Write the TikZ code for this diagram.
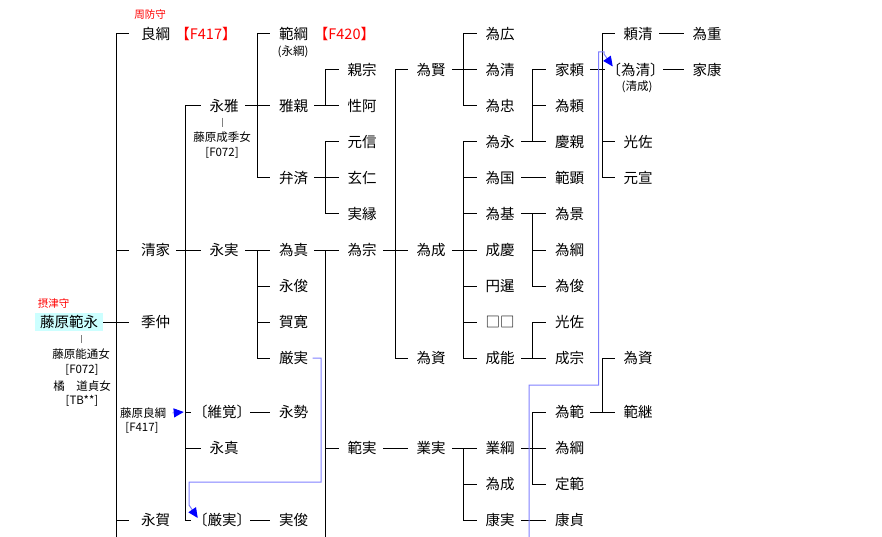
\documentclass[tikz,border=0pt]{standalone}
\usepackage{fontspec}
\setmainfont{Noto Sans CJK JP}
\newfontfamily\jph[RawFeature=+halt]{Noto Sans CJK JP}
\usetikzlibrary{arrows.meta}
\definecolor{lnblue}{RGB}{128,128,255}
\definecolor{tipblue}{RGB}{0,0,255}
\definecolor{boxcyan}{RGB}{204,255,255}
\definecolor{redtxt}{RGB}{255,0,0}
\definecolor{tickgray}{RGB}{128,128,128}
\begin{document}
\begin{tikzpicture}[x=1pt,y=-1pt,line width=1pt,line cap=rect,
  nm/.style={font=\fontsize{14.5}{15}\selectfont, inner xsep=6pt, inner ysep=1pt},
  nmh/.style={nm, font=\jph\fontsize{14.5}{15}\selectfont},
  sm/.style={font=\fontsize{11.5}{12}\selectfont, inner sep=0pt},
  note/.style={font=\fontsize{10.5}{11}\selectfont, text=redtxt, inner sep=0pt},
  redref/.style={font=\jph\fontsize{14.5}{15}\selectfont, text=redtxt, inner sep=0pt},
  tk/.style={shorten >=3pt},
  tkA/.style={shorten >=6pt},
  bl/.style={draw=lnblue, line cap=butt, -{Triangle[color=tipblue,fill=tipblue,length=10pt,width=9pt]}},
  gtick/.style={draw=tickgray, line cap=butt},
]
\useasboundingbox (0,0) rectangle (882,537);

% vertical line positions
\coordinate (V1) at (116.7,0);
\coordinate (V2) at (185.3,0);
\coordinate (V3) at (257.7,0);
\coordinate (V4) at (325,0);
\coordinate (V5) at (395.7,0);
\coordinate (V6) at (463,0);
\coordinate (V7) at (532.3,0);
\coordinate (V8) at (602.3,0);
\coordinate (bot1) at (116.7,537);
\coordinate (bot4) at (325,537);
\coordinate (botb) at (529,537);

% root
\node[nm, fill=boxcyan, inner xsep=5pt, inner ysep=2pt] (hn) at (69,322) {藤原範永};
\node[note] (hnt) at (53.5,304) {摂津守};
\node[sm] (sp1) at (81,354) {藤原能通女};
\node[sm] (sp2) at (82,370) {[F072]};
\node[sm] (sp3) at (82,386) {橘　道貞女};
\node[sm] (sp4) at (82,401) {[TB**]};

% column 1
\node[nm] (a1) at (155.5,34) {良綱};
\node[note] (a1t) at (150,15) {周防守};
\node[redref] (a1r) at (206,34) {【F417】};
\node[nm] (a2) at (155.5,250) {清家};
\node[nm] (a3) at (155.5,322) {季仲};
\node[nm] (a4) at (155.5,520) {永賀};
\node[sm] (yr) at (143,413) {藤原良綱};
\node[sm] (yr2) at (142,428) {[F417]};

% column 2
\node[nm] (b1) at (224,106) {永雅};
\node[sm] (sq1) at (222,137) {藤原成季女};
\node[sm] (sq2) at (222,153) {[F072]};
\node[nm] (b2) at (224,250) {永実};
\node[nmh] (b3) at (222,412) {〔維覚〕};
\node[nm] (b4) at (224,448) {永真};
\node[nmh] (b5) at (222,520) {〔厳実〕};

% column 3
\node[nm] (c1) at (293.5,34) {範綱};
\node[redref] (c1r) at (344.5,34) {【F420】};
\node[sm] (c1s) at (293,52) {(永綱)};
\node[nm] (c2) at (293.5,106) {雅親};
\node[nm] (c3) at (293.5,178) {弁済};
\node[nm] (c4) at (293.5,250) {為真};
\node[nm] (c5) at (293.5,286) {永俊};
\node[nm] (c6) at (293.5,322) {賀寛};
\node[nm] (c7) at (293.5,358) {厳実};
\node[nm] (c8) at (293.5,412) {永勢};
\node[nm] (c9) at (293.5,520) {実俊};

% column 4
\node[nm] (d1) at (362,70) {親宗};
\node[nm] (d2) at (362,106) {性阿};
\node[nm] (d3) at (362,142) {元信};
\node[nm] (d4) at (362,178) {玄仁};
\node[nm] (d5) at (362,214) {実縁};
\node[nm] (d6) at (362,250) {為宗};
\node[nm] (d7) at (362,448) {範実};

% column 5
\node[nm] (e1) at (431,70) {為賢};
\node[nm] (e2) at (431,250) {為成};
\node[nm] (e3) at (431,358) {為資};
\node[nm] (e4) at (431,448) {業実};

% column 6
\node[nm] (f1) at (500,34) {為広};
\node[nm] (f2) at (500,70) {為清};
\node[nm] (f3) at (500,106) {為忠};
\node[nm] (f4) at (500,142) {為永};
\node[nm] (f5) at (500,178) {為国};
\node[nm] (f6) at (500,214) {為基};
\node[nm] (f7) at (500,250) {成慶};
\node[nm] (f8) at (500,286) {円暹};
\node[nm] (f9) at (500,322) {□□};
\node[nm] (f10) at (500,358) {成能};
\node[nm] (f11) at (500,448) {業綱};
\node[nm] (f12) at (500,484) {為成};
\node[nm] (f13) at (500,520) {康実};

% column 7
\node[nm] (g1) at (569.5,70) {家頼};
\node[nm] (g2) at (569.5,106) {為頼};
\node[nm] (g3) at (569.5,142) {慶親};
\node[nm] (g4) at (569.5,178) {範顕};
\node[nm] (g5) at (569.5,214) {為景};
\node[nm] (g6) at (569.5,250) {為綱};
\node[nm] (g7) at (569.5,286) {為俊};
\node[nm] (g8) at (569.5,322) {光佐};
\node[nm] (g9) at (569.5,358) {成宗};
\node[nm] (g10) at (569.5,412) {為範};
\node[nm] (g11) at (569.5,448) {為綱};
\node[nm] (g12) at (569.5,484) {定範};
\node[nm] (g13) at (569.5,520) {康貞};

% column 8
\node[nm] (h1) at (638,34) {頼清};
\node[nmh] (h2) at (635.5,70) {〔為清〕};
\node[sm] (h2s) at (637,87) {(清成)};
\node[nm] (h3) at (638,142) {光佐};
\node[nm] (h4) at (638,178) {元宣};
\node[nm] (h5) at (638,358) {為資};
\node[nm] (h6) at (638,412) {範継};

% column 9
\node[nm] (i1) at (707,34) {為重};
\node[nm] (i2) at (707,70) {家康};

% spouse ticks
\draw[gtick, shorten <=4pt, shorten >=5pt] (hn.south -| sp1.north) -- (sp1.north);
\draw[gtick, shorten <=3.5pt, shorten >=4.5pt] (b1.south -| sq1.north) -- (sq1.north);

% family of hn
\draw (V1 |- a1) -- (bot1);
\foreach \c in {a1,a2,a4} \draw[tkA] (V1 |- \c) -- (\c.west);
\draw[tkA] (hn.east) -- (a3.west);

% family of a2
\draw (V2 |- b1) -- (V2 |- b5);
\foreach \c in {b1,b3,b4,b5} \draw[tk] (V2 |- \c) -- (\c.west);
\draw[tk] (a2.east) -- (b2.west);

% family of b1
\draw (V3 |- c1) -- (V3 |- c3);
\foreach \c in {c1,c3} \draw[tk] (V3 |- \c) -- (\c.west);
\draw[tk] (b1.east) -- (c2.west);

% family of b2
\draw (V3 |- c4) -- (V3 |- c7);
\foreach \c in {c5,c6,c7} \draw[tk] (V3 |- \c) -- (\c.west);
\draw[tk] (b2.east) -- (c4.west);

% single lines
\draw[tk] (b3.east) -- (c8.west);
\draw[tk] (b5.east) -- (c9.west);
\draw[tk] (d7.east) -- (e4.west);
\draw[tk] (f5.east) -- (g4.west);
\draw[tk] (f13.east) -- (g13.west);
\draw[tk] (h1.east) -- (i1.west);
\draw[tk] (h2.east) -- (i2.west);

% family of c2
\draw (V4 |- d1) -- (V4 |- d2);
\draw[tk] (V4 |- d1) -- (d1.west);
\draw[tk] (c2.east) -- (d2.west);

% family of c3
\draw (V4 |- d3) -- (V4 |- d5);
\foreach \c in {d3,d5} \draw[tk] (V4 |- \c) -- (\c.west);
\draw[tk] (c3.east) -- (d4.west);

% family of c4
\draw (V4 |- d6) -- (bot4);
\draw[tk] (V4 |- d7) -- (d7.west);
\draw[tk] (c4.east) -- (d6.west);

% family of d6
\draw (V5 |- e1) -- (V5 |- e3);
\foreach \c in {e1,e3} \draw[tk] (V5 |- \c) -- (\c.west);
\draw[tk] (d6.east) -- (e2.west);

% family of e1
\draw (V6 |- f1) -- (V6 |- f3);
\foreach \c in {f1,f3} \draw[tk] (V6 |- \c) -- (\c.west);
\draw[tk] (e1.east) -- (f2.west);

% family of e2
\draw (V6 |- f4) -- (V6 |- f10);
\foreach \c in {f4,f5,f6,f8,f9,f10} \draw[tk] (V6 |- \c) -- (\c.west);
\draw[tk] (e2.east) -- (f7.west);

% family of e4
\draw (V6 |- f11) -- (V6 |- f13);
\foreach \c in {f12,f13} \draw[tk] (V6 |- \c) -- (\c.west);
\draw[tk] (e4.east) -- (f11.west);

% family of f4
\draw (V7 |- g1) -- (V7 |- g3);
\foreach \c in {g1,g2} \draw[tk] (V7 |- \c) -- (\c.west);
\draw[tk] (f4.east) -- (g3.west);

% family of f6
\draw (V7 |- g5) -- (V7 |- g7);
\foreach \c in {g6,g7} \draw[tk] (V7 |- \c) -- (\c.west);
\draw[tk] (f6.east) -- (g5.west);

% family of f10
\draw (V7 |- g8) -- (V7 |- g9);
\draw[tk] (V7 |- g8) -- (g8.west);
\draw[tk] (f10.east) -- (g9.west);

% family of f11
\draw (V7 |- g10) -- (V7 |- g12);
\foreach \c in {g10,g12} \draw[tk] (V7 |- \c) -- (\c.west);
\draw[tk] (f11.east) -- (g11.west);

% family of g1
\draw (V8 |- h1) -- (V8 |- h4);
\foreach \c in {h1,h3,h4} \draw[tk] (V8 |- \c) -- (\c.west);
\draw[tk] (g1.east) -- (h2.west);

% family of g10
\draw (V8 |- h5) -- (V8 |- h6);
\draw[tk] (V8 |- h5) -- (h5.west);
\draw[tk] (g10.east) -- (h6.west);

% blue cross-references
\draw[bl] ([xshift=-2pt]c7.east) -- (321,358) -- (321,482) -- (189,482) -- (189,505) -- ([xshift=4pt,yshift=2pt]b5.west);
\draw[bl] (botb) -- (529,385) -- (598.5,385) -- (598.5,52) -- (604,52) -- (604,54) -- ([xshift=5.5pt,yshift=3.5pt]h2.west);
\draw[bl] ([xshift=6pt]yr.east) -- ([xshift=-10pt]b3.west);
\end{tikzpicture}
\end{document}
